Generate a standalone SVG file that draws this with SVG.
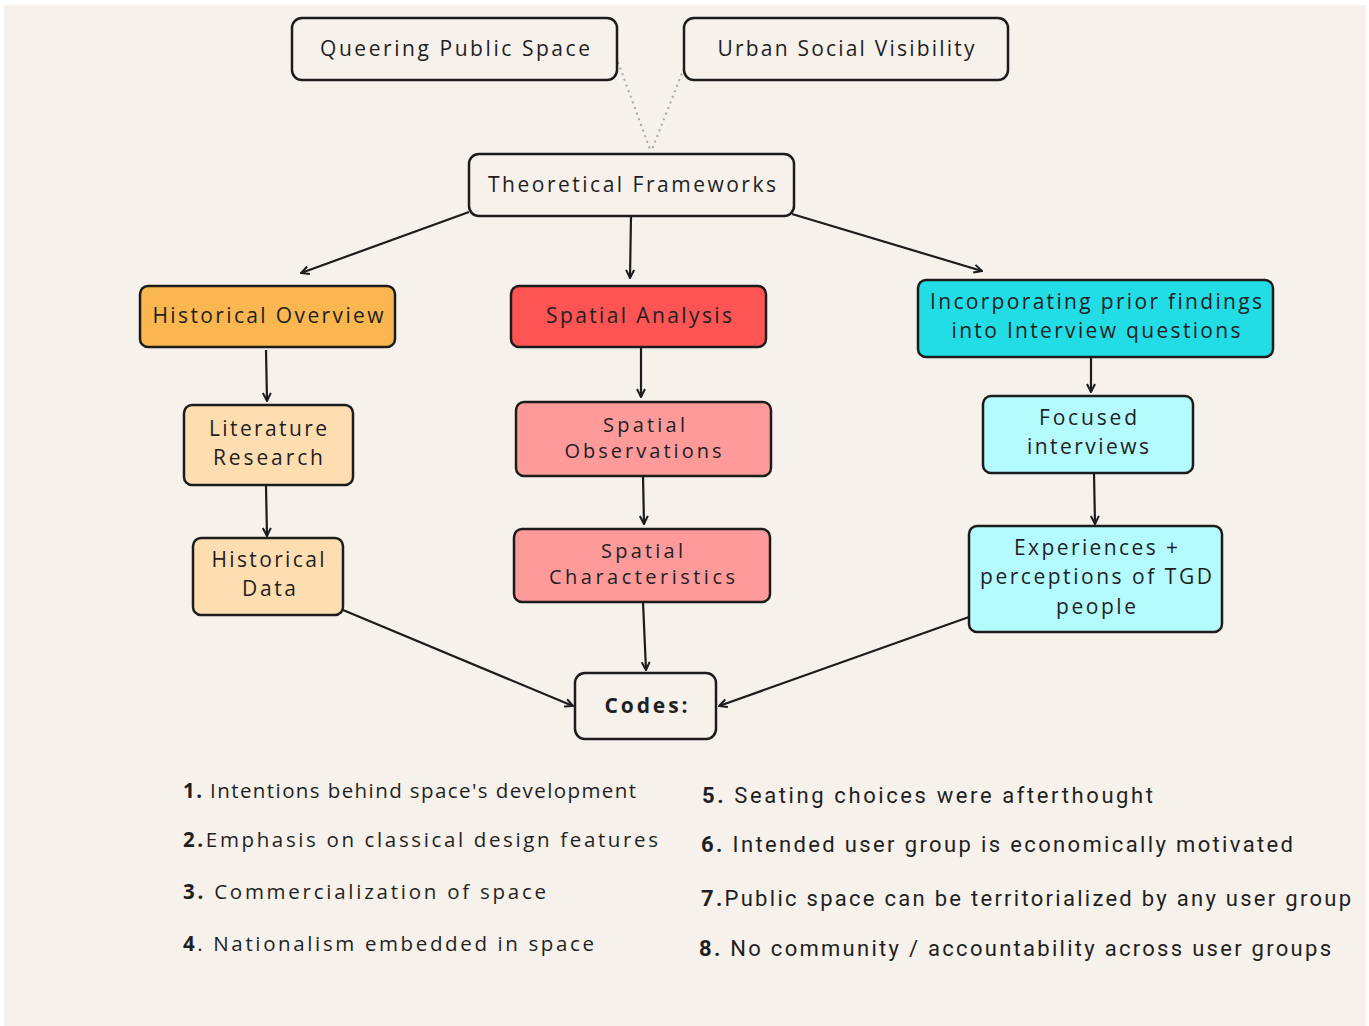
<svg xmlns="http://www.w3.org/2000/svg" width="1369" height="1026" viewBox="0 0 1369 1026">
  <defs>
    <style>
      text { font-variant-ligatures: none; }
      .box { stroke: #1c1c1c; stroke-width: 2.5; }
      .plain { fill: #f6f1ea; }
      .orange { fill: #fbb74f; }
      .orange-lt { fill: #fedeb0; }
      .red { fill: #fe5453; }
      .red-lt { fill: #fe9a9a; }
      .cyan { fill: #22dde6; }
      .cyan-lt { fill: #b3fbfe; }
      .lbl { font-family: "Open Sans", "Liberation Sans", sans-serif; font-size: 21px; fill: #1f1f1f; text-anchor: middle; }
      .lbl-s { font-size: 20px; }
      .list { font-family: "Open Sans", "Liberation Sans", sans-serif; font-size: 20.5px; fill: #1f1f1f; }
      .list2 { font-family: Roboto, "Liberation Sans", sans-serif; font-size: 22px; fill: #1f1f1f; }
      .num { font-weight: bold; }
      .edge { stroke: #1c1c1c; stroke-width: 2.2; fill: none; marker-end: url(#arrow); }
      .dots { stroke: #a8a8a8; stroke-width: 2; fill: none; stroke-dasharray: 2 4; }
    </style>
    <marker id="arrow" viewBox="0 0 10 10" refX="9" refY="5" markerWidth="10" markerHeight="10" markerUnits="userSpaceOnUse" orient="auto">
      <path d="M1,1 L9,5 L1,9" fill="none" stroke="#1c1c1c" stroke-width="2"/>
    </marker>
  </defs>

  <!-- page background -->
  <rect x="0" y="0" width="1369" height="1026" fill="#ffffff"/>
  <rect x="4" y="5" width="1362" height="1021" fill="#f6f1ea"/>

  <!-- connectors -->
  <g id="connectors">
    <path class="dots" d="M618,62 L651,152"/>
    <path class="dots" d="M684,68 L651,152"/>
    <path class="edge" d="M469,212 L301,273"/>
    <path class="edge" d="M631,216 L630,278"/>
    <path class="edge" d="M792,214 L982,271"/>
    <path class="edge" d="M266,350 L267,401"/>
    <path class="edge" d="M266,486 L267,536"/>
    <path class="edge" d="M641,347 L641,397"/>
    <path class="edge" d="M643,476 L644,524"/>
    <path class="edge" d="M643,602 L646,670"/>
    <path class="edge" d="M1091,344 L1091,392"/>
    <path class="edge" d="M1094,473 L1095,524"/>
    <path class="edge" d="M343,610 L573,706"/>
    <path class="edge" d="M969,617 L719,706"/>
  </g>

  <g id="queering-public-space">
    <rect class="box plain" x="292" y="18" width="325" height="62" rx="10"/>
    <text class="lbl" x="455" y="56" textLength="270" lengthAdjust="spacing">Queering Public Space</text>
  </g>
  <g id="urban-social-visibility">
    <rect class="box plain" x="684" y="18" width="324" height="62" rx="10"/>
    <text class="lbl" x="846" y="56" textLength="257" lengthAdjust="spacing">Urban Social Visibility</text>
  </g>
  <g id="theoretical-frameworks">
    <rect class="box plain" x="469" y="154" width="325" height="62" rx="10"/>
    <text class="lbl" x="632" y="192" textLength="288" lengthAdjust="spacing">Theoretical Frameworks</text>
  </g>

  <g id="historical-overview">
    <rect class="box orange" x="140" y="286" width="255" height="61" rx="8"/>
    <text class="lbl" x="268" y="323" textLength="231" lengthAdjust="spacing">Historical Overview</text>
  </g>
  <g id="literature-research">
    <rect class="box orange-lt" x="184" y="405" width="169" height="80" rx="8"/>
    <text class="lbl" x="268" y="436" textLength="118" lengthAdjust="spacing">Literature</text>
    <text class="lbl" x="268" y="465" textLength="110" lengthAdjust="spacing">Research</text>
  </g>
  <g id="historical-data">
    <rect class="box orange-lt" x="193" y="538" width="150" height="77" rx="8"/>
    <text class="lbl" x="268" y="567" textLength="113" lengthAdjust="spacing">Historical</text>
    <text class="lbl" x="269" y="596" textLength="54" lengthAdjust="spacing">Data</text>
  </g>

  <g id="spatial-analysis">
    <rect class="box red" x="511" y="286" width="255" height="61" rx="8"/>
    <text class="lbl" x="639" y="323" textLength="186" lengthAdjust="spacing">Spatial Analysis</text>
  </g>
  <g id="spatial-observations">
    <rect class="box red-lt" x="516" y="402" width="255" height="74" rx="8"/>
    <text class="lbl lbl-s" x="644" y="432" textLength="82" lengthAdjust="spacing">Spatial</text>
    <text class="lbl lbl-s" x="643" y="458" textLength="157" lengthAdjust="spacing">Observations</text>
  </g>
  <g id="spatial-characteristics">
    <rect class="box red-lt" x="514" y="529" width="256" height="73" rx="8"/>
    <text class="lbl lbl-s" x="642" y="558" textLength="82" lengthAdjust="spacing">Spatial</text>
    <text class="lbl lbl-s" x="642" y="584" textLength="186" lengthAdjust="spacing">Characteristics</text>
  </g>

  <g id="incorporating-prior-findings">
    <rect class="box cyan" x="918" y="280" width="355" height="77" rx="8"/>
    <text class="lbl" x="1096" y="309" textLength="332" lengthAdjust="spacing">Incorporating prior findings</text>
    <text class="lbl" x="1096" y="338" textLength="289" lengthAdjust="spacing">into Interview questions</text>
  </g>
  <g id="focused-interviews">
    <rect class="box cyan-lt" x="983" y="396" width="210" height="77" rx="8"/>
    <text class="lbl" x="1088" y="425" textLength="98" lengthAdjust="spacing">Focused</text>
    <text class="lbl" x="1088" y="454" textLength="122" lengthAdjust="spacing">interviews</text>
  </g>
  <g id="experiences-perceptions">
    <rect class="box cyan-lt" x="969" y="526" width="253" height="106" rx="8"/>
    <text class="lbl" x="1096" y="555" textLength="164" lengthAdjust="spacing">Experiences +</text>
    <text class="lbl" x="1096" y="584" textLength="232" lengthAdjust="spacing">perceptions of TGD</text>
    <text class="lbl" x="1096" y="614" textLength="80" lengthAdjust="spacing">people</text>
  </g>

  <g id="codes">
    <rect class="box plain" x="575" y="673" width="141" height="66" rx="10"/>
    <text class="lbl" x="646" y="713" font-weight="bold" textLength="83" lengthAdjust="spacing">Codes:</text>
  </g>

  <!-- code list -->
  <g id="code-list">
    <text class="list" x="183" y="798" textLength="453" lengthAdjust="spacing"><tspan class="num">1.</tspan> Intentions behind space's development</text>
    <text class="list" x="183" y="847" textLength="475" lengthAdjust="spacing"><tspan class="num">2.</tspan>Emphasis on classical design features</text>
    <text class="list" x="183" y="899" textLength="363" lengthAdjust="spacing"><tspan class="num">3.</tspan> Commercialization of space</text>
    <text class="list" x="183" y="951" textLength="411" lengthAdjust="spacing"><tspan class="num">4</tspan>. Nationalism embedded in space</text>
    <text class="list2" x="702" y="803" textLength="451" lengthAdjust="spacing"><tspan class="num">5.</tspan> Seating choices were  afterthought</text>
    <text class="list2" x="701" y="852" textLength="592" lengthAdjust="spacing"><tspan class="num">6.</tspan> Intended user group is economically motivated</text>
    <text class="list2" x="701" y="906" textLength="650" lengthAdjust="spacing"><tspan class="num">7.</tspan>Public space can be territorialized by any user group</text>
    <text class="list2" x="699" y="956" textLength="632" lengthAdjust="spacing"><tspan class="num">8.</tspan> No community / accountability across user groups</text>
  </g>
</svg>
